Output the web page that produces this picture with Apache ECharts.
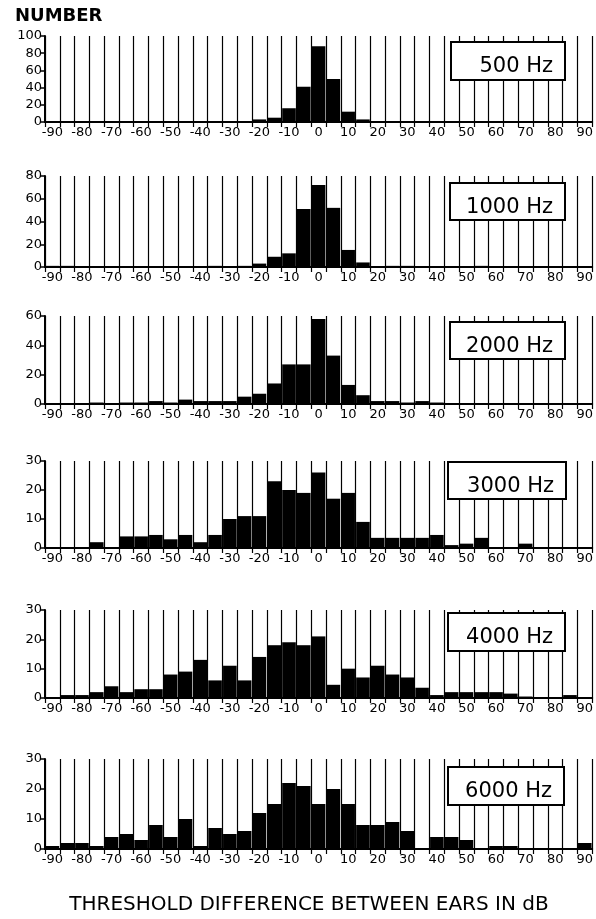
<!DOCTYPE html>
<html>
<head>
<meta charset="utf-8">
<script src="https://cdn.jsdelivr.net/npm/echarts@6/dist/echarts.min.js"></script>
<style>
html,body{margin:0;padding:0;background:#fff;}
#chart{width:596px;height:919px;}
</style>
</head>
<body>
<div id="chart"></div>
<script>
// Bin centres (dB), 5 dB bins
const categories = ['-90','-85','-80','-75','-70','-65','-60','-55','-50','-45','-40','-35','-30','-25','-20','-15','-10','-5','0','5','10','15','20','25','30','35','40','45','50','55','60','65','70','75','80','85','90'];

// Counts per bin
const hz500  = [0,0,0,0,0,0,0,1,0,0,0,0,0,1,3,5,16,41,88,50,12,3,1,1,0,1,1,0,0,0,0,0,0,0,0,0,0];
const hz1000 = [1,1,0,0,0,0,0,0,0,0,0,1,0,1,3,9,12,51,72,52,15,4,0,1,1,0,0,0,0,1,0,0,0,0,0,0,0];
const hz2000 = [0,0,0,1,0,1,1,2,1,3,2,2,2,5,7,14,27,27,58,33,13,6,2,2,1,2,1,0,0,0,0,0,0,0,0,0,0];
const hz3000 = [0,0,0,2,0,4,4,4.5,3,4.5,2,4.5,10,11,11,23,20,19,26,17,19,9,3.5,3.5,3.5,3.5,4.5,1,1.5,3.5,0,0,1.5,0,0,0,0];
const hz4000 = [0,1,1,2,4,2,3,3,8,9,13,6,11,6,14,18,19,18,21,4.5,10,7,11,8,7,3.5,1,2,2,2,2,1.5,0.5,0,0,1,0];
const hz6000 = [1,2,2,1,4,5,3,8,4,10,1,7,5,6,12,15,22,21,15,20,15,8,8,9,6,0,4,4,3,0,1,1,0,0,0,0,2];

const panelLabels = ['500 Hz','1000 Hz','2000 Hz','3000 Hz','4000 Hz','6000 Hz'];
const yMax = [100, 80, 60, 30, 30, 30];
const yStep = [20, 20, 20, 10, 10, 10];
const seriesData = [hz500, hz1000, hz2000, hz3000, hz4000, hz6000];

const yTitle = 'NUMBER';
const xTitle = 'THRESHOLD DIFFERENCE BETWEEN EARS IN dB';

// layout (pixels)
const gridTops = [36, 176, 316, 461, 610, 759];
const gridBottoms = [122, 267, 404, 548, 698, 849];
const boxes = [
  {x1:451, x2:565, y1:42, y2:80},
  {x1:450, x2:565, y1:183, y2:220},
  {x1:450, x2:565, y1:322, y2:359},
  {x1:448, x2:566, y1:462, y2:499},
  {x1:448, x2:565, y1:613, y2:651},
  {x1:448, x2:564, y1:767, y2:805}
];

const FONT = 'DejaVu Sans';
const grids = [], xAxes = [], yAxes = [], series = [], graphics = [];
for (let i = 0; i < 6; i++) {
  grids.push({left: 45, right: 1, top: gridTops[i], height: gridBottoms[i] - gridTops[i], containLabel: false});
  xAxes.push({
    type: 'category', gridIndex: i, data: categories, boundaryGap: true,
    axisLine: {show: true, lineStyle: {color: '#000', width: 2}},
    axisTick: {show: true, interval: 0, length: 5, lineStyle: {color: '#000', width: 1.2}},
    splitLine: {show: true, interval: 0, lineStyle: {color: '#000', width: 1.2}},
    axisLabel: {interval: 1, color: '#000', fontFamily: FONT, fontSize: 13, margin: 4}
  });
  yAxes.push({
    type: 'value', gridIndex: i, min: 0, max: yMax[i], interval: yStep[i],
    axisLine: {show: true, lineStyle: {color: '#000', width: 2}},
    axisTick: {show: true, length: 5, lineStyle: {color: '#000', width: 1.5}},
    splitLine: {show: false},
    axisLabel: {color: '#000', fontFamily: FONT, fontSize: 13, margin: 3}
  });
  series.push({
    type: 'bar', xAxisIndex: i, yAxisIndex: i, data: seriesData[i],
    barCategoryGap: '8%', itemStyle: {color: '#000'}, silent: true
  });
  const b = boxes[i];
  graphics.push({
    type: 'rect', z: 100,
    shape: {x: b.x1, y: b.y1, width: b.x2 - b.x1, height: b.y2 - b.y1},
    style: {fill: '#fff', stroke: '#000', lineWidth: 2}
  });
  graphics.push({
    type: 'text', z: 101, x: b.x2 - 12, y: b.y1 + 25,
    style: {text: panelLabels[i], fill: '#000', font: '21px "DejaVu Sans"', textAlign: 'right', textVerticalAlign: 'middle'}
  });
}
graphics.push({type: 'text', z: 101, x: 15, y: 16,
  style: {text: yTitle, fill: '#000', font: 'bold 18px "DejaVu Sans"', textAlign: 'left', textVerticalAlign: 'middle'}});
graphics.push({type: 'text', z: 101, x: 309, y: 905,
  style: {text: xTitle, fill: '#000', font: '20px "DejaVu Sans"', textAlign: 'center', textVerticalAlign: 'middle'}});

const chart = echarts.init(document.getElementById('chart'), null, {renderer: 'canvas'});
chart.setOption({
  animation: false,
  backgroundColor: '#fff',
  grid: grids, xAxis: xAxes, yAxis: yAxes, series: series, graphic: graphics
});
</script>
</body>
</html>
